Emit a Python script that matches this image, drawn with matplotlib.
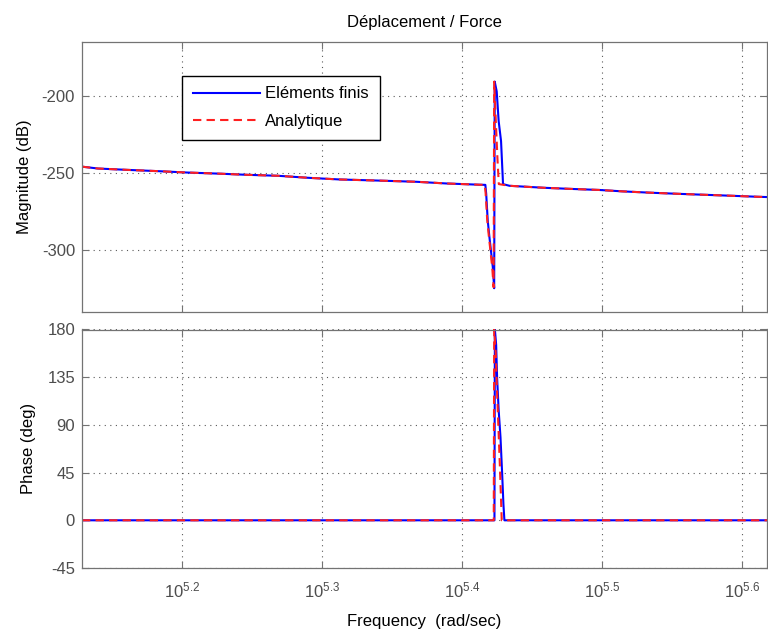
import numpy as np
import matplotlib
matplotlib.use("Agg")
import matplotlib.pyplot as plt
from matplotlib.ticker import FixedLocator, FixedFormatter, NullFormatter

plt.rcParams['font.family'] = ['Liberation Sans', 'DejaVu Sans']
plt.rcParams['axes.unicode_minus'] = False
plt.rcParams['mathtext.fontset'] = 'custom'
plt.rcParams['mathtext.rm'] = 'Liberation Sans'
plt.rcParams['mathtext.it'] = 'Liberation Sans'
plt.rcParams['mathtext.bf'] = 'Liberation Sans'

# ---- data (log10 of frequency in rad/sec) ----
mag_lf_fe = [5.1289, 5.1403, 5.1617, 5.1830, 5.2037, 5.2258, 5.2472, 5.2685, 5.2899,
             5.3127, 5.3397, 5.3675, 5.3889, 5.4124, 5.4166, 5.4172, 5.4183, 5.4195,
             5.4207, 5.4219, 5.4229, 5.4233, 5.4247, 5.4261, 5.4278, 5.4290, 5.4292,
             5.4338, 5.4587, 5.4800, 5.4978, 5.5142, 5.5349, 5.5570, 5.5904, 5.6104, 5.6175]
mag_fe = [-245.8, -247.0, -247.9, -248.7, -249.6, -250.3, -251.1, -251.7, -253.0,
          -254.1, -254.8, -255.6, -256.7, -257.5, -257.6, -263.3, -280.7, -291.4,
          -301.1, -310.7, -324.6, -190.7, -197.0, -216.3, -229.2, -252.8, -257.1,
          -258.2, -259.5, -260.3, -260.9, -261.8, -262.7, -263.5, -264.6, -265.3, -265.5]

mag_lf_an = [5.1289, 5.1403, 5.1617, 5.1830, 5.2037, 5.2258, 5.2472, 5.2685, 5.2899,
             5.3127, 5.3397, 5.3675, 5.3889, 5.4124, 5.4162, 5.4168, 5.4179, 5.4191,
             5.4203, 5.4215, 5.4225, 5.4229, 5.4240, 5.4252, 5.4262,
             5.4338, 5.4587, 5.4800, 5.4978, 5.5142, 5.5349, 5.5570, 5.5904, 5.6104, 5.6175]
mag_an = [-245.8, -247.0, -247.9, -248.7, -249.6, -250.3, -251.1, -251.7, -253.0,
          -254.1, -254.8, -255.6, -256.7, -257.5, -257.6, -263.0, -280.0, -291.0,
          -301.0, -311.0, -324.0, -190.7, -215.0, -240.0, -257.1,
          -258.2, -259.5, -260.3, -260.9, -261.8, -262.7, -263.5, -264.6, -265.3, -265.5]

ph_lf_fe = [5.1289, 5.4231, 5.4234, 5.4243, 5.4250, 5.4261, 5.4274, 5.4286, 5.4295, 5.4302, 5.6175]
ph_fe = [0, 0, 180, 165.7, 134, 103.8, 78.4, 43.5, 15, 0, 0]

ph_lf_an = [5.1289, 5.4226, 5.4229, 5.4240, 5.4250, 5.4260, 5.4270, 5.4279, 5.4283, 5.6175]
ph_an = [0, 0, 180, 158, 120, 85, 50, 15, 0, 0]

xtick_exp = ['5.2', '5.3', '5.4', '5.5', '5.6']
mag_ticks = [-300, -250, -200]
ph_ticks = [-45, 0, 45, 90, 135, 180]
labels = ['Eléments finis', 'Analytique']

# ---- figure ----
W, H = 768, 637
fig = plt.figure(figsize=(W / 100, H / 100), dpi=100)
fig.patch.set_facecolor('white')

left, right = 82, 767
ax1 = fig.add_axes([left / W, 1 - 312 / H, (right - left) / W, (312 - 42) / H])
ax2 = fig.add_axes([left / W, 1 - 568 / H, (right - left) / W, (568 - 329.5) / H])

xlim = (10 ** 5.1289, 10 ** 5.6175)
fs = 12
spine_c = '0.45'
tick_c = '0.3'

for ax in (ax1, ax2):
    ax.set_xscale('log')
    ax.set_xlim(*xlim)
    ax.xaxis.set_major_locator(FixedLocator([10 ** float(e) for e in xtick_exp]))
    ax.xaxis.set_minor_locator(FixedLocator([]))
    ax.grid(True, which='major', linestyle=(0, (1, 4)), color='0.35', linewidth=0.8)
    ax.tick_params(direction='in', top=True, right=True, length=5, width=0.8,
                   color=spine_c, labelcolor=tick_c, labelsize=fs, pad=5)
    for s in ax.spines.values():
        s.set_color(spine_c)
        s.set_linewidth(0.9)
ax2.tick_params(axis='x', pad=9)

l1, = ax1.plot([10 ** v for v in mag_lf_fe], mag_fe, color='#0000ff', lw=1.5)
l2, = ax1.plot([10 ** v for v in mag_lf_an], mag_an, color='#ff2020', lw=1.5,
               linestyle=(0, (4, 2.5)))
ax1.set_ylim(-340, -165)
ax1.set_yticks(mag_ticks)
ax1.xaxis.set_major_formatter(NullFormatter())
ax1.set_ylabel('Magnitude (dB)', fontsize=fs, labelpad=7)
ax1.set_title('Déplacement / Force', fontsize=fs, pad=11)

ax2.plot([10 ** v for v in ph_lf_fe], ph_fe, color='#0000ff', lw=1.5)
ax2.plot([10 ** v for v in ph_lf_an], ph_an, color='#ff2020', lw=1.5,
         linestyle=(0, (4, 2.5)))
ax2.set_ylim(-45, 180)
ax2.set_yticks(ph_ticks)
ax2.xaxis.set_major_formatter(FixedFormatter([r'$10^{%s}$' % e for e in xtick_exp]))
ax2.set_ylabel('Phase (deg)', fontsize=fs, labelpad=8)
ax2.set_xlabel('Frequency  (rad/sec)', fontsize=fs, labelpad=10)

leg = ax1.legend([l1, l2], labels, loc='upper left',
                 bbox_to_anchor=(182 / W, 1 - 75.5 / H), bbox_transform=fig.transFigure,
                 fontsize=fs, fancybox=False, framealpha=1, edgecolor='black',
                 handlelength=4.0, handletextpad=0.35, labelspacing=0.75,
                 borderpad=0.65, borderaxespad=0)
leg.get_frame().set_linewidth(1.0)

fig.savefig('out.png', dpi=100, facecolor='white')
